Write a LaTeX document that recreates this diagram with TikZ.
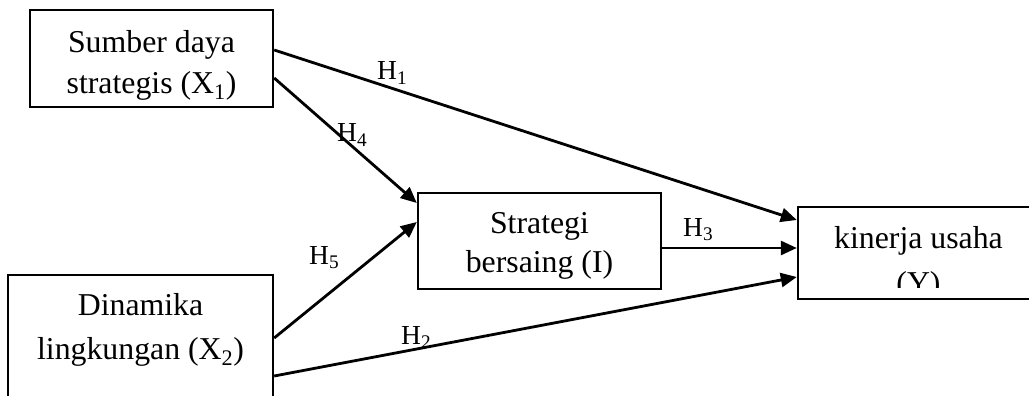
\documentclass[tikz,border=0pt]{standalone}
\usepackage{fontspec}
\setmainfont{Liberation Serif}
\usetikzlibrary{arrows.meta}
\tikzstyle{box} = [draw, line width=2.4pt, inner sep=0pt]
\tikzstyle{txt} = [align=center, inner sep=0pt, anchor=base, font=\fontsize{31.8}{41}\selectfont]
\tikzstyle{hyp} = [inner sep=0pt, anchor=base west, font=\fontsize{27.5}{33}\selectfont]
\tikzstyle{link} = [line width=2.8pt, -{Triangle[length=16pt,width=14pt]}]

\begin{document}
\begin{tikzpicture}[x=1pt, y=-1pt]
    \useasboundingbox (0,0) rectangle (1029,396);
    % variables
    \node[box, minimum width=243pt, minimum height=97pt] (x1) at (151.5,58.5) {};
    \node[box, minimum width=265pt, minimum height=135pt] (x2) at (140.5,342.5) {};
    \node[box, minimum width=243pt, minimum height=96pt] (i) at (539.5,241) {};
    \node[box, minimum width=241pt, minimum height=92pt] (y) at (918.5,253) {};
    \node[txt] (x1t) at (151.5,93) {Sumber daya\\strategis (X\textsubscript{1})};
    \node[txt] (x2t) at (140.5,359) {Dinamika\\[3pt]lingkungan (X\textsubscript{2})};
    \node[txt] (it) at (539.5,272) {Strategi\\[-2pt]bersaing (I)};
    \begin{scope}
        \clip (800,209) rectangle (1029,287);
        \node[txt] (yt) at (918.5,293) {kinerja usaha\\[4pt](Y)};
    \end{scope}
    % hypotheses
    \draw[link] ([yshift=8.5pt]x1.east) -- ([yshift=33pt]y.west);
    \draw[link] ([yshift=-19.5pt]x1.east) -- ([yshift=38pt]i.west);
    \draw[link] ([yshift=4.5pt]x2.east) -- ([yshift=19pt]i.west);
    \draw[link] ([yshift=-33.5pt]x2.east) -- ([yshift=-24pt]y.west);
    \draw[link] ([yshift=-7pt]i.east) -- ([yshift=5pt]y.west);
    \node[hyp] (h1) at (377,80) {H\textsubscript{1}};
    \node[hyp] (h2) at (401,344) {H\textsubscript{2}};
    \node[hyp] (h3) at (683,236) {H\textsubscript{3}};
    \node[hyp] (h4) at (337,142) {H\textsubscript{4}};
    \node[hyp] (h5) at (309,264) {H\textsubscript{5}};
\end{tikzpicture}
\end{document}
